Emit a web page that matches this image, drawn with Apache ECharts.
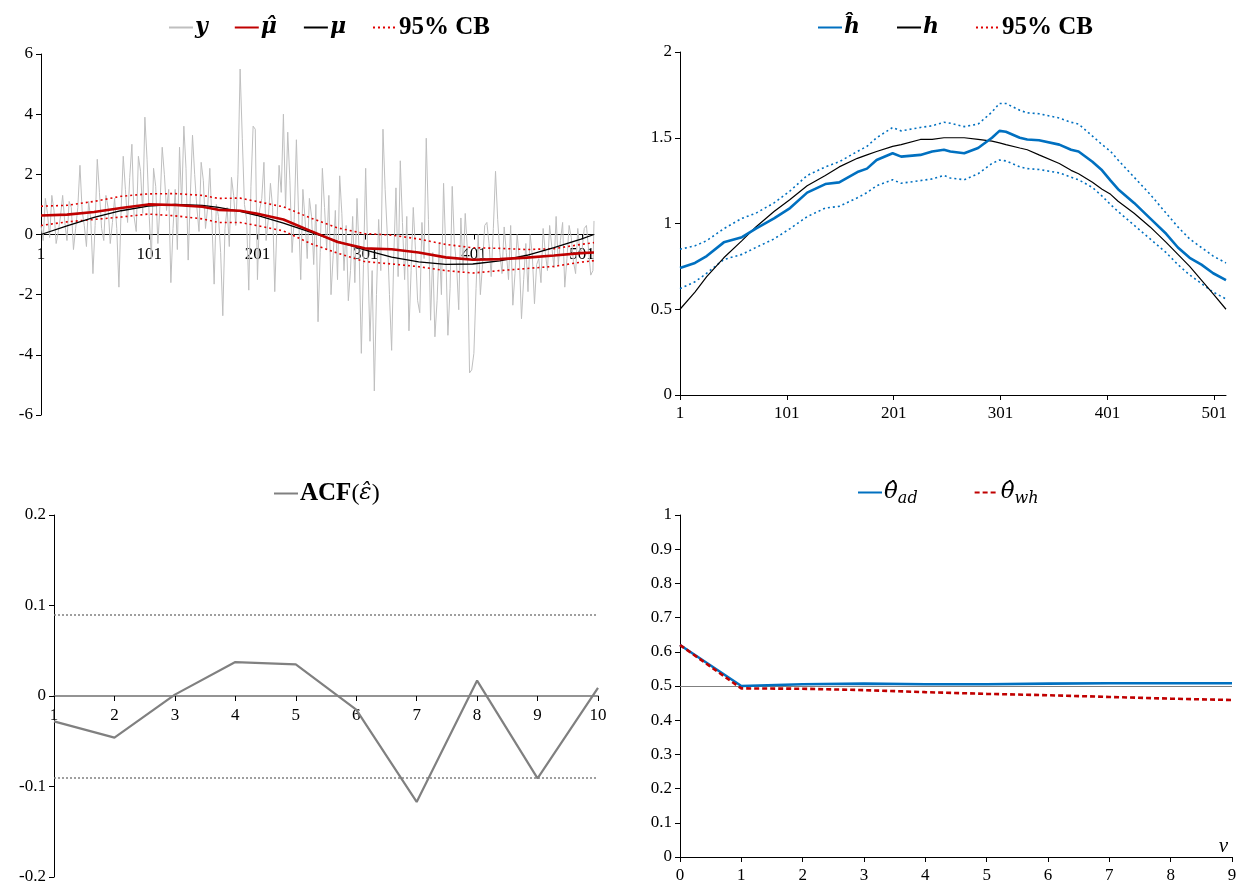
<!DOCTYPE html>
<html>
<head>
<meta charset="utf-8">
<script src="https://cdn.jsdelivr.net/npm/echarts@6/dist/echarts.min.js"></script>
<style>
  html, body { margin: 0; padding: 0; background: #fff; }
  #chart { width: 1239px; height: 886px; }
</style>
</head>
<body>
<div id="chart"></div>
<script>
const yObs = [
  0.3, 1.2, -0.1, 0.8, 0.1, 1.3, -0.2, 0.9, 0.2, 2.3, 0.3, 1.1, -1.3, 2.5, 0.2, 1.3,
  -0.3, 1.2, -1.75, 2.6, 0.4, 3.0, 0.1, 2.1, 3.9, 0.6, 2.2, -0.3, 2.9, 0.8, -1.6, 1.5,
  2.9, 3.6, -0.85, 3.3, 0.9, 2.4, 0.2, 2.2, -1.65, 0.6, -2.7, 0.9, 1.9, 0.3, 5.5, 1.0,
  -1.85, 3.6, -1.5, 1.2, -0.2, 1.7, -1.9, 2.3, 4.0, 3.4, -0.6, 3.15, -1.5, 0.5, 1.2, -1.0,
  -2.9, 2.2, -0.5, -2.0, 0.8, 1.95, -1.2, -2.2, 0.6, 1.2, -3.95, 2.2, -3.55, -5.2, 0.5, 3.5,
  0.0, -3.85, 1.55, 2.45, -1.5, -3.2, 0.9, -2.2, 0.4, 3.2, -2.85, -3.4, -0.3, 1.7, -3.35, 1.6,
  -1.0, 0.55, 0.7, -4.6, -3.95, 0.0, -1.0, 0.4, -1.4, 2.1, -0.6, 0.25, -1.5, -2.35, 0.0, -2.8,
  -0.3, 0.0, -2.3, -0.8, 0.2, -1.2, -0.4, 0.6, -0.2, -1.75, 0.3, -0.9, 0.2, -0.5, 0.3, -1.35,
  0.45
];
const yObsMid = [
  -0.2, 0.7, 1.3, -0.3, 0.6, 0.4, 1.1, -0.5, 0.9, 0.8, -0.4, 0.5, 0.3, 1.4, -0.2, 0.9,
  0.4, 0.2, 0.8, 1.5, 1.9, 0.6, 2.6, 0.7, 2.5, -0.8, 1.6, 1.0, 2.0, 1.5, 0.2, -0.5,
  1.0, 2.2, 1.3, 2.0, 0.1, 1.8, 0.9, 0.4, 1.0, -0.6, 0.2, -0.4, 1.3, 2.0, 3.2, 0.5,
  1.6, 3.5, 0.8, 2.4, 0.5, 0.9, 0.3, 1.4, 0.9, 1.8, 0.5, 0.7, 1.5, -0.8, 0.6, 1.0,
  -0.6, 0.9, 1.3, -0.7, -1.5, 0.7, 0.3, -1.2, -1.6, -0.6, -1.0, -0.8, -1.2, -2.0, -1.2, 1.5,
  -2.0, -0.7, -1.4, 0.4, 0.6, -1.2, -0.5, -2.6, -0.8, 0.5, -0.6, -2.2, -2.0, -0.5, -1.8, -0.3,
  -2.5, -1.2, -0.5, -4.5, -1.8, -2.0, 0.3, -0.3, 0.2, 0.5, -1.3, -0.6, 0.3, -1.3, -0.8, -1.5,
  -1.9, -0.7, -1.0, -1.6, -0.6, 0.3, -1.1, -1.0, 0.4, -0.8, -0.1, -1.3, -0.6, 0.2, -0.5, -1.2
];

// smooth curves of the top-left panel
const tMu = [1, 25, 50, 75, 100, 125, 150, 165, 185, 200, 225, 250, 275, 300, 325, 350, 375, 400, 425, 450, 475, 500, 512];
const muTrue = [0, 0.29, 0.57, 0.79, 0.94, 1.0, 0.97, 0.9, 0.77, 0.64, 0.38, 0.08, -0.23, -0.51, -0.75, -0.91, -0.99, -0.98, -0.88, -0.69, -0.44, -0.15, 0];
const muHat = [0.63, 0.66, 0.75, 0.88, 1.0, 0.98, 0.92, 0.82, 0.79, 0.7, 0.5, 0.12, -0.25, -0.46, -0.49, -0.6, -0.76, -0.84, -0.82, -0.77, -0.7, -0.62, -0.6];
const muUp = [0.94, 0.97, 1.1, 1.27, 1.35, 1.36, 1.3, 1.2, 1.21, 1.1, 0.92, 0.55, 0.22, 0.03, -0.02, -0.15, -0.33, -0.44, -0.46, -0.5, -0.47, -0.33, -0.27];
const muLo = [0.3, 0.42, 0.5, 0.58, 0.68, 0.62, 0.52, 0.4, 0.4, 0.3, 0.12, -0.3, -0.62, -0.9, -0.98, -1.07, -1.2, -1.28, -1.2, -1.13, -1.06, -0.92, -0.87];

// ---- top-right: h
const tH = [1, 15, 26, 42, 59, 72, 89, 104, 120, 137, 150, 167, 176, 185, 200, 208, 226, 237, 248, 254, 267, 280, 293, 300, 306,
  319, 326, 337, 356, 367, 374, 387, 396, 404, 411, 426, 441, 456, 467, 478, 489, 500, 512];
const hHat = [0.74, 0.77, 0.81, 0.89, 0.92, 0.97, 1.03, 1.09, 1.18, 1.23, 1.24, 1.3, 1.32, 1.37, 1.41, 1.39, 1.4, 1.42, 1.43, 1.42, 1.41, 1.44, 1.5, 1.54, 1.535,
  1.5, 1.49, 1.485, 1.46, 1.43, 1.42, 1.36, 1.31, 1.25, 1.2, 1.12, 1.03, 0.94, 0.86, 0.8, 0.76, 0.71, 0.67];
const hUp = [0.85, 0.87, 0.9, 0.97, 1.03, 1.06, 1.12, 1.19, 1.28, 1.33, 1.36, 1.42, 1.45, 1.5, 1.56, 1.54, 1.56, 1.57, 1.59, 1.585, 1.565, 1.58, 1.65, 1.7, 1.7,
  1.66, 1.645, 1.64, 1.615, 1.59, 1.58, 1.51, 1.46, 1.42, 1.37, 1.27, 1.17, 1.06, 0.98, 0.91, 0.86, 0.81, 0.77];
const hLo = [0.62, 0.66, 0.71, 0.79, 0.82, 0.86, 0.91, 0.97, 1.04, 1.09, 1.1, 1.15, 1.18, 1.22, 1.255, 1.235, 1.25, 1.26, 1.28, 1.265, 1.255, 1.29, 1.35, 1.37, 1.365,
  1.33, 1.32, 1.315, 1.295, 1.27, 1.255, 1.21, 1.16, 1.11, 1.07, 0.99, 0.91, 0.83, 0.76, 0.7, 0.65, 0.6, 0.56];
const hTrue = [0.5, 0.6, 0.69, 0.8, 0.9, 0.98, 1.07, 1.14, 1.22, 1.28, 1.33, 1.38, 1.4, 1.42, 1.45, 1.46, 1.49, 1.49, 1.5, 1.5, 1.5, 1.49, 1.48, 1.47, 1.46,
  1.44, 1.43, 1.4, 1.35, 1.31, 1.29, 1.24, 1.2, 1.17, 1.13, 1.06, 0.98, 0.89, 0.82, 0.75, 0.67, 0.59, 0.5];
const xTickLabels = [1, 101, 201, 301, 401, 501];

// ---- bottom-left: ACF of residuals
const lags = [1, 2, 3, 4, 5, 6, 7, 8, 9, 10];
const acf = [-0.028, -0.046, 0.0015, 0.0375, 0.035, -0.015, -0.117, 0.017, -0.091, 0.009];
const acfBand = 0.087;

// ---- bottom-right: theta estimates
const vSteps = [0, 1, 2, 3, 4, 5, 6, 7, 8, 9];
const thetaAd = [0.62, 0.5, 0.505, 0.507, 0.505, 0.505, 0.507, 0.508, 0.508, 0.508];
const thetaWh = [0.62, 0.493, 0.492, 0.488, 0.482, 0.477, 0.473, 0.468, 0.463, 0.459];
const thetaRef = 0.5;

const pairs = (xs, ys) => ys.map((v, i) => [xs[i], v]);

// interleave the two readings of y: t = 1,3,5,7,... then the last obs at 512
const yData = [];
yObsMid.forEach((mid, i) => {
  yData.push([1 + 4 * i, yObs[i]]);
  yData.push([3 + 4 * i, mid]);
});
yData.push([512, yObs[yObs.length - 1]]);

const SERIF = 'Liberation Serif';
const RED = '#c00000';
const BLUE = '#0070c0';

const legendRich = {
  m: { fontFamily: 'DejaVu Serif', fontStyle: 'italic', fontWeight: 'bold', fontSize: 22, color: '#000' },
  n: { fontFamily: 'DejaVu Serif', fontStyle: 'italic', fontSize: 23, color: '#000' },
  b: { fontFamily: SERIF, fontWeight: 'bold', fontSize: 25, color: '#000' },
  p: { fontFamily: SERIF, fontSize: 24, color: '#000' },
  s: { fontFamily: 'DejaVu Serif', fontStyle: 'italic', fontSize: 16, color: '#000', padding: [12, 0, 0, 0] }
};

function legendName(name) {
  switch (name) {
    case '95% CB': return '{b|95% CB}';
    case 'ACF': return '{b|ACF}{p|(}{n|ε̂}{p|)}';
    case 'tad': return '{n|θ̂}{s|ad}';
    case 'twh': return '{n|θ̂}{s|wh}';
    default: return '{m|' + name + '}';
  }
}

function legend(left, top, data, gap) {
  return {
    left, top, data, itemGap: gap, itemWidth: 24, itemHeight: 12,
    formatter: legendName,
    itemStyle: { opacity: 0 },
    textStyle: { rich: legendRich, padding: [0, 0, 0, -3] },
    selectedMode: false
  };
}

const labelStyle = { fontFamily: SERIF, fontSize: 17, color: '#000' };
const axisLine = { lineStyle: { color: '#000', width: 1 } };
const tick = { length: 5, lineStyle: { color: '#000' } };

function yAxis(gridIndex, min, max, interval, fmt) {
  return {
    type: 'value', gridIndex, min, max, interval,
    axisLine: { show: true, ...axisLine }, axisTick: { show: true, ...tick },
    splitLine: { show: false },
    axisLabel: { ...labelStyle, margin: 8, formatter: fmt }
  };
}

function line(name, data, xi, color, width, type, z) {
  return {
    type: 'line', name, data, xAxisIndex: xi, yAxisIndex: xi,
    symbol: 'none', smooth: false, silent: true, z: z || 2,
    lineStyle: { color, width, type: type || 'solid' },
    itemStyle: { color }
  };
}

// grid boxes; the two left panels carry their x axis on the zero line (middle of a symmetric y range)
const grids = [
  { left: 41, top: 54, width: 553, height: 361 },
  { left: 680, top: 52, width: 546, height: 343 },
  { left: 54, top: 515, width: 544, height: 362 },
  { left: 680, top: 515, width: 552, height: 342 }
];
const midOffset = g => -g.height / 2;

const chart = echarts.init(document.getElementById('chart'), null, { renderer: 'canvas' });

chart.setOption({
  animation: false,
  backgroundColor: '#fff',
  legend: [
    legend(163, 10, ['y', 'μ̂', 'μ', '95% CB'], 26),
    legend(812, 10, ['ĥ', 'h', '95% CB'], 36),
    legend(268, 476, ['ACF'], 10),
    legend(852, 476, ['tad', 'twh'], 56)
  ],
  grid: grids.map(g => ({ ...g, outerBoundsMode: 'none', containLabel: false })),
  xAxis: [
    {
      type: 'value', gridIndex: 0, min: 1, max: 512, position: 'bottom', offset: midOffset(grids[0]),
      axisLine: { onZero: false, ...axisLine },
      axisTick: { show: true, customValues: xTickLabels, ...tick },
      axisLabel: { ...labelStyle, customValues: xTickLabels, margin: 12 },
      splitLine: { show: false }
    },
    {
      type: 'value', gridIndex: 1, min: 1, max: 512,
      axisLine: axisLine,
      axisTick: { show: true, customValues: xTickLabels, ...tick },
      axisLabel: { ...labelStyle, customValues: xTickLabels, margin: 10 },
      splitLine: { show: false }
    },
    {
      type: 'value', gridIndex: 2, min: 1, max: 10, interval: 1, position: 'bottom', offset: midOffset(grids[2]),
      axisLine: { onZero: false, lineStyle: { color: '#707070', width: 1.5 } },
      axisTick: { show: true, length: 5, lineStyle: { color: '#000' } },
      axisLabel: { ...labelStyle, margin: 11 },
      splitLine: { show: false }
    },
    {
      type: 'value', gridIndex: 3, min: 0, max: 9, interval: 1,
      axisLine: axisLine,
      axisTick: { show: true, ...tick },
      axisLabel: { ...labelStyle, margin: 10 },
      splitLine: { show: false },
      name: 'v', nameLocation: 'end', nameGap: -4,
      nameTextStyle: { fontFamily: SERIF, fontStyle: 'italic', fontSize: 21, color: '#000', align: 'right', verticalAlign: 'bottom', padding: [0, 0, 0, 0] }
    }
  ],
  yAxis: [
    yAxis(0, -6, 6, 2),
    yAxis(1, 0, 2, 0.5),
    yAxis(2, -0.2, 0.2, 0.1, v => String(Math.round(v * 10) / 10)),
    yAxis(3, 0, 1, 0.1, v => String(Math.round(v * 10) / 10))
  ],
  series: [
    // top-left
    line('y', yData, 0, '#bfbfbf', 1, 'solid', 1),
    line('95% CB', pairs(tMu, muUp), 0, '#e00000', 1.6, [2, 3]),
    line('95% CB', pairs(tMu, muLo), 0, '#e00000', 1.6, [2, 3]),
    line('μ', pairs(tMu, muTrue), 0, '#000', 1.3, 'solid', 3),
    line('μ̂', pairs(tMu, muHat), 0, RED, 2.6, 'solid', 4),
    // top-right
    line('95% CB', pairs(tH, hUp), 1, BLUE, 1.6, [2, 3]),
    line('95% CB', pairs(tH, hLo), 1, BLUE, 1.6, [2, 3]),
    line('h', pairs(tH, hTrue), 1, '#000', 1.2, 'solid', 3),
    line('ĥ', pairs(tH, hHat), 1, BLUE, 2.6, 'solid', 4),
    // bottom-left
    Object.assign(line('ACF', pairs(lags, acf), 2, '#808080', 2.2, 'solid', 3), {
      markLine: {
        silent: true, symbol: 'none', label: { show: false },
        lineStyle: { color: '#808080', width: 1.5, type: [2, 2] },
        data: [{ yAxis: acfBand }, { yAxis: -acfBand }]
      }
    }),
    // bottom-right
    Object.assign(line('tad', pairs(vSteps, thetaAd), 3, BLUE, 2.6, 'solid', 3), {
      markLine: {
        silent: true, symbol: 'none', label: { show: false }, z: 1,
        lineStyle: { color: '#808080', width: 1.2, type: 'solid' },
        data: [{ yAxis: thetaRef }]
      }
    }),
    line('twh', pairs(vSteps, thetaWh), 3, RED, 2.6, [5, 3], 4)
  ]
});
window.addEventListener('resize', () => chart.resize());
</script>
</body>
</html>
